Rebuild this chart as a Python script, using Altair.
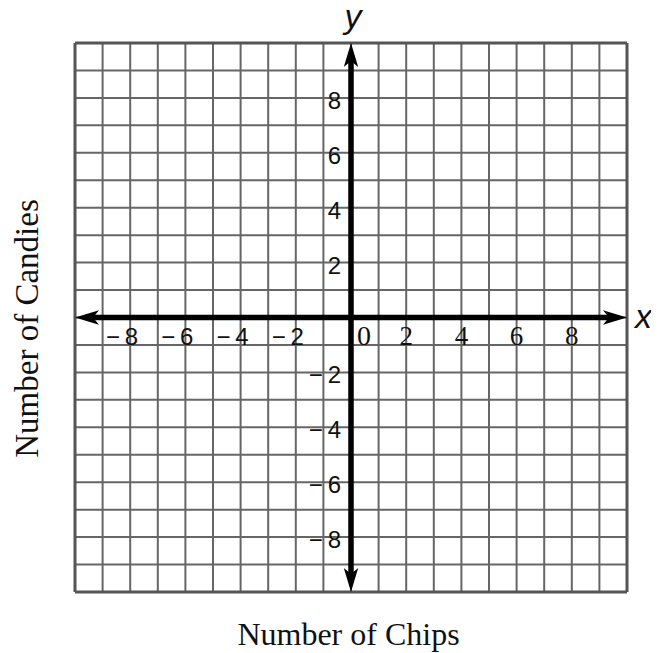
import altair as alt
import pandas as pd

# ---- data ----
grid_values = list(range(-10, 11))
border_values = [-10, 10]
x_neg_values = [-8, -6, -4, -2]
x_neg_texts = ["\u2212\u20098", "\u2212\u20096", "\u2212\u20094", "\u2212\u20092"]
x_pos_values = [2, 4, 6, 8]
x_pos_texts = ["2", "4", "6", "8"]
y_label_values = [8, 6, 4, 2, -2, -4, -6, -8]
y_label_texts = ["8", "6", "4", "2", "\u2212\u20092", "\u2212\u20094", "\u2212\u20096", "\u2212\u20098"]
zero_label = ["0"]
axis_line_x = [-9.5, 9.5]
axis_line_y = [-9.5, 9.5]
arrow_x = [0, 10, 0, -10]
arrow_y = [10, 0, -10, 0]
arrow_angle = [0, 90, 180, 270]

dom = [-10, 10]
xs = alt.Scale(domain=dom, nice=False, zero=False)
ys = alt.Scale(domain=dom, nice=False, zero=False)

grid_df = pd.DataFrame({"x": grid_values, "y": grid_values})
border_df = pd.DataFrame({"x": border_values, "y": border_values})
xneg_df = pd.DataFrame({"x": x_neg_values, "y": [0] * 4, "t": x_neg_texts})
xpos_df = pd.DataFrame({"x": x_pos_values, "y": [0] * 4, "t": x_pos_texts})
ylab_df = pd.DataFrame({"x": [0] * len(y_label_values), "y": y_label_values, "t": y_label_texts})
zero_df = pd.DataFrame({"x": [0], "y": [0], "t": zero_label})
hline_df = pd.DataFrame({"x": axis_line_x, "y": [0, 0]})
vline_df = pd.DataFrame({"x": [0, 0], "y": axis_line_y})
arrow_df = pd.DataFrame({"x": arrow_x, "y": arrow_y, "a": arrow_angle})
xname_df = pd.DataFrame({"x": [10], "y": [0], "t": ["x"]})
yname_df = pd.DataFrame({"x": [0], "y": [10], "t": ["y"]})

grid_color = "#666666"

x_axis = alt.Axis(
    title="Number of Chips", labels=False, ticks=False, domain=False, grid=False,
    titleFont="Liberation Serif", titleFontSize=32, titleFontWeight="normal",
    titleColor="#111111", titlePadding=27, titleX=273,
)
y_axis = alt.Axis(
    title="Number of Candies", labels=False, ticks=False, domain=False, grid=False,
    titleFont="Liberation Serif", titleFontSize=33, titleFontWeight="normal",
    titleColor="#111111", titlePadding=31, titleY=285,
)


def X(field="x"):
    return alt.X(f"{field}:Q", scale=xs, axis=x_axis)


def Y(field="y"):
    return alt.Y(f"{field}:Q", scale=ys, axis=y_axis)


vgrid = alt.Chart(grid_df).mark_rule(color=grid_color, strokeWidth=2).encode(x=X())
hgrid = alt.Chart(grid_df).mark_rule(color=grid_color, strokeWidth=2).encode(y=Y())
vborder = alt.Chart(border_df).mark_rule(color="#555555", strokeWidth=3).encode(x=X())
hborder = alt.Chart(border_df).mark_rule(color="#555555", strokeWidth=3).encode(y=Y())

hline = alt.Chart(hline_df).mark_line(color="black", strokeWidth=5.5).encode(x=X(), y=Y())
vline = alt.Chart(vline_df).mark_line(color="black", strokeWidth=5.5).encode(x=X(), y=Y())

arrows = alt.Chart(arrow_df).mark_point(
    shape="M0,0 L0.6,2 L0,1.5 L-0.6,2 Z", filled=True, color="black", opacity=1, size=576
).encode(x=X(), y=Y(), angle=alt.Angle("a:Q", scale=None))

xneg = alt.Chart(xneg_df).mark_text(
    font="Liberation Sans", fontSize=24, align="right", baseline="alphabetic",
    dx=8, dy=27, color="#111111"
).encode(x=X(), y=Y(), text="t:N")
xpos = alt.Chart(xpos_df).mark_text(
    font="Liberation Serif", fontSize=27, align="center", baseline="alphabetic",
    dx=0, dy=27, color="#111111"
).encode(x=X(), y=Y(), text="t:N")
zlabel = alt.Chart(zero_df).mark_text(
    font="Liberation Serif", fontSize=28, align="center", baseline="alphabetic",
    dx=13, dy=27, color="#111111"
).encode(x=X(), y=Y(), text="t:N")
ylabels = alt.Chart(ylab_df).mark_text(
    font="Liberation Sans", fontSize=24, align="right", baseline="middle",
    dx=-10, dy=4, color="#111111"
).encode(x=X(), y=Y(), text="t:N")

xname = alt.Chart(xname_df).mark_text(
    font="Liberation Sans", fontSize=34, fontStyle="italic", align="left",
    baseline="alphabetic", dx=8, dy=10, color="#111111"
).encode(x=X(), y=Y(), text="t:N")
yname = alt.Chart(yname_df).mark_text(
    font="Liberation Sans", fontSize=34, fontStyle="italic", align="center",
    baseline="alphabetic", dx=2, dy=-15, color="#111111"
).encode(x=X(), y=Y(), text="t:N")

chart = alt.layer(
    vgrid, hgrid, vborder, hborder, hline, vline, arrows,
    xneg, xpos, zlabel, ylabels, xname, yname
).properties(
    width=552, height=549,
    autosize=alt.AutoSizeParams(type="none"),
    padding={"left": 67, "top": 35, "right": 24, "bottom": 60},
).configure_view(stroke=None)

chart.save("out.html", embed_options={"renderer": "svg", "actions": False})
